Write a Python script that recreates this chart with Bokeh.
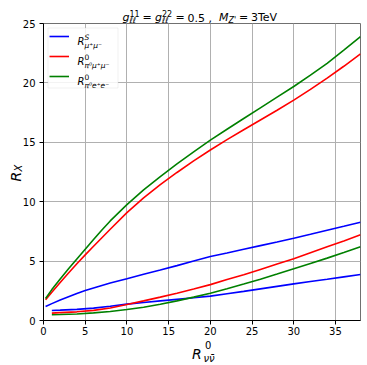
import numpy as np
from bokeh.plotting import figure
from bokeh.models import Legend, LegendItem, FixedTicker, Range1d, ColumnDataSource, BoxAnnotation
from bokeh.core.properties import value
from bokeh.embed import file_html
from bokeh.resources import INLINE

# ---------------- data ----------------
x_ticks = [0, 5, 10, 15, 20, 25, 30, 35]
y_ticks = [0, 5, 10, 15, 20, 25]

# upper branches
x_up = [0.25, 1, 2, 3, 4, 5, 6, 7, 8, 10, 12, 14, 16, 18, 20, 22, 24, 26, 28, 30, 32, 34, 36, 38]
blue_up = [1.18, 1.42, 1.72, 2.0, 2.27, 2.52, 2.74, 2.95, 3.15, 3.52, 3.9, 4.25, 4.62, 5.0, 5.38,
           5.68, 5.99, 6.3, 6.61, 6.93, 7.26, 7.6, 7.93, 8.27]
red_up = [1.75, 2.38, 3.2, 4.0, 4.78, 5.52, 6.25, 6.97, 7.68, 9.08, 10.32, 11.43, 12.46, 13.43,
          14.35, 15.22, 16.06, 16.88, 17.7, 18.55, 19.45, 20.4, 21.4, 22.45]
green_up = [1.85, 2.6, 3.5, 4.35, 5.18, 6.0, 6.82, 7.62, 8.38, 9.75, 11.0, 12.12, 13.18, 14.2,
            15.18, 16.1, 17.0, 17.9, 18.8, 19.7, 20.65, 21.65, 22.75, 23.9]

# lower branches
x_lo = [1, 2, 4, 6, 8, 10, 12, 14, 16, 18, 20, 22, 24, 26, 28, 30, 32, 34, 36, 38]
blue_lo = [0.84, 0.87, 0.94, 1.04, 1.2, 1.38, 1.52, 1.65, 1.78, 1.91, 2.05, 2.25, 2.45, 2.66,
           2.87, 3.08, 3.28, 3.47, 3.67, 3.87]
red_lo = [0.62, 0.66, 0.73, 0.85, 1.05, 1.35, 1.65, 1.97, 2.3, 2.65, 3.02, 3.45, 3.85, 4.3,
          4.75, 5.19, 5.7, 6.2, 6.7, 7.21]
green_lo = [0.48, 0.5, 0.55, 0.64, 0.76, 0.92, 1.12, 1.37, 1.65, 1.97, 2.3, 2.67, 3.07, 3.48,
            3.91, 4.35, 4.8, 5.25, 5.72, 6.2]

BLUE, RED, GREEN = "#0000ff", "#ff0000", "#008000"
FONT = "DejaVu Sans"

# ---------------- figure ----------------
XMAX, YMAX = 38, 25
W, H = 361, 362
BL, BT, BR = 43, 23, 1
FW, FH = W - BL - BR, 297
BB = H - BT - FH

p = figure(width=W, height=H, x_range=Range1d(0, XMAX), y_range=Range1d(0, YMAX),
           output_backend="svg", toolbar_location=None,
           min_border_left=BL, min_border_right=BR, min_border_top=BT, min_border_bottom=BB)

p.background_fill_color = "white"
p.border_fill_color = "white"
p.outline_line_color = "#707070"
p.outline_line_width = 1

for ax, ticks in ((p.xaxis, x_ticks), (p.yaxis, y_ticks)):
    ax.ticker = FixedTicker(ticks=ticks)
    ax.axis_line_color = "black"
    ax.axis_line_width = 1
    ax.major_tick_out = 4
    ax.major_tick_in = 0
    ax.minor_tick_line_color = None
    ax.major_tick_line_color = "black"
    ax.major_label_text_font = FONT
    ax.major_label_text_font_size = "10px"
    ax.major_label_text_color = "black"
p.xaxis.major_label_standoff = 2
p.yaxis.major_label_standoff = 4

p.xgrid.grid_line_color = "#b0b0b0"
p.ygrid.grid_line_color = "#b0b0b0"
p.xgrid.grid_line_width = 1
p.ygrid.grid_line_width = 1


def X(px):
    return XMAX * (px - BL) / FW


def Y(py):
    return YMAX * (BT + FH - py) / FH


# legend frame (drawn under the legend entries, over the grid)
p.add_layout(BoxAnnotation(left=X(47.5), right=X(117.5), top=Y(27.5), bottom=Y(87.5),
                           fill_color="white", fill_alpha=0.85,
                           line_color="#cccccc", line_width=1, level="underlay"))

lw = 1.6
rb = p.line(x_up, blue_up, line_color=BLUE, line_width=lw)
p.line(x_lo, blue_lo, line_color=BLUE, line_width=lw)
rr = p.line(x_up, red_up, line_color=RED, line_width=lw)
p.line(x_lo, red_lo, line_color=RED, line_width=lw)
rg = p.line(x_up, green_up, line_color=GREEN, line_width=lw)
p.line(x_lo, green_lo, line_color=GREEN, line_width=lw)

legend = Legend(items=[LegendItem(label=" ", renderers=[rb]),
                       LegendItem(label=" ", renderers=[rr]),
                       LegendItem(label=" ", renderers=[rg])],
                location="top_left", margin=6, padding=2, spacing=6,
                glyph_width=20, glyph_height=14, label_height=14, label_width=40,
                label_standoff=5, label_text_font_size="8px",
                border_line_color=None, background_fill_alpha=0)
p.add_layout(legend)

# ---------------- texts (page pixel -> data coordinate) ----------------
T = dict(x=[], y=[], text=[], size=[], style=[], angle=[])


def txt(s, px, py, size, italic=False, angle=0.0):
    T["x"].append(X(px))
    T["y"].append(Y(py))
    T["text"].append(s)
    T["size"].append(f"{size}px")
    T["style"].append("italic" if italic else "normal")
    T["angle"].append(angle)


# title: g^11_ll = g^22_ll = 0.5 ,  M_Z' = 3TeV
tb, sup_b, sub_b = 17, 12.5, 19.5
txt("g", 122, tb, 11, True)
txt("11", 129, sup_b, 8)
txt("ℓℓ", 129, sub_b, 8, True)
txt("=", 142, tb, 11)
txt("g", 154.5, tb, 11, True)
txt("22", 161.5, sup_b, 8)
txt("ℓℓ", 161.5, sub_b, 8, True)
txt("=", 175, tb, 11)
txt("0.5", 187, tb, 11)
txt(",", 208, tb, 11)
txt("M", 218.5, tb, 11, True)
txt("Z'", 228, sub_b, 8, True)
txt("=", 238.5, tb, 11)
txt("3TeV", 250.5, tb, 11)

# y axis label R_X (rotated)
txt("R", 15, 181, 14, True, angle=np.pi / 2)
txt("X", 18, 171, 10, True, angle=np.pi / 2)

# x axis label R^0_{nu nubar}
txt("R", 191.5, 353, 14, True)
txt("0", 204.5, 344.5, 10)
txt("νν̄", 203, 357.5, 10, True)

# legend texts
for cy, sup, sub in ((38, "S", "μ⁺μ⁻"), (58, "0", "π⁰μ⁺μ⁻"), (78, "0", "π⁰e⁺e⁻")):
    txt("R", 77, cy + 3, 10, True)
    txt(sup, 84, cy - 1.5, 7.5, sup == "S")
    txt(sub, 84, cy + 7, 7.5, True)

p.text(x="x", y="y", text="text", angle="angle", source=ColumnDataSource(T),
       text_font=value(FONT), text_font_size="size", text_font_style="style",
       text_color="black", text_baseline="alphabetic", text_align="left", level="overlay")

open("out.html", "w").write(file_html(p, INLINE))
